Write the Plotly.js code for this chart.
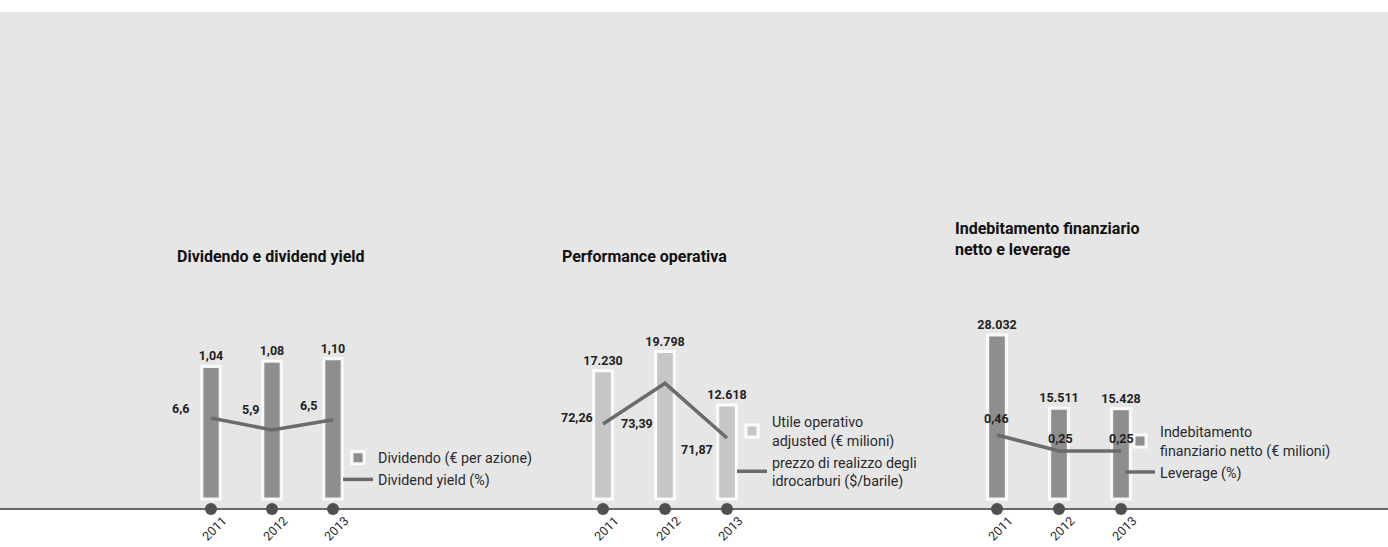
<!DOCTYPE html>
<html>
<head>
<meta charset="utf-8">
<script src="https://cdn.plot.ly/plotly-3.0.1.min.js"></script>
<style>html,body{margin:0;padding:0;background:#fff;}#chart{width:1388px;height:547px;}</style>
</head>
<body>
<div id="chart"></div>
<script>
// ---- data ----
const years = ['2011', '2012', '2013'];

const dividendo = [1.04, 1.08, 1.10];          // € per azione
const dividendYield = [6.6, 5.9, 6.5];         // %

const utileOperativo = [17230, 19798, 12618];  // € milioni
const prezzoIdrocarburi = [72.26, 73.39, 71.87]; // $/barile

const indebitamento = [28032, 15511, 15428];   // € milioni
const leverage = [0.46, 0.25, 0.25];           // %

const panelTitles = ['Dividendo e dividend yield', 'Performance operativa', 'Indebitamento finanziario<br>netto e leverage'];
const barNames = ['Dividendo (€ per azione)', 'Utile operativo<br>adjusted (€ milioni)', 'Indebitamento<br>finanziario netto (€ milioni)'];
const lineNames = ['Dividend yield (%)', 'prezzo di realizzo degli<br>idrocarburi ($/barile)', 'Leverage (%)'];

// ---- style / layout ----
const FONT = 'Roboto, "Open Sans", sans-serif';
const W = 1388, H = 547;
const yDom = [(H - 509) / H, (H - 300) / H];
const xDoms = [[180.5 / W, 363.5 / W], [572 / W, 758 / W], [966 / W, 1152 / W]];
const barRanges = [[-10 / 127.5, 199 / 127.5], [-10 / 0.00745, 199 / 0.00745], [-10 / 0.00585, 199 / 0.00585]];
const lineRanges = [[6.6 - 91 / 17, 6.6 + 118 / 17], [72.26 - 85 / 36, 72.26 + 124 / 36], [0.46 - 74 / 76.2, 0.46 + 135 / 76.2]];
const barColors = ['#8e8e8e', '#c6c6c6', '#8e8e8e'];
const lineColor = '#6b6b6b';
const dotColor = '#4f4f4f';
const barFmt = ['%{y:.2f}', '%{y:,.0f}', '%{y:,.0f}'];
const lineFmt = [v => v.toFixed(1).replace('.', ','), v => v.toFixed(2).replace('.', ','), v => v.toFixed(2).replace('.', ',')];
const labelShift = [
  [[-31, 10], [-22, 20], [-25, 14]],
  [[-26, 7], [-28, -40], [-30, -11]],
  [[-1, 17], [1, 13], [0, 13]]
];
const legendPos = [[338 / W, (H - 442) / H], [732 / W, (H - 406) / H], [1120 / W, (H - 416) / H]];

const barData = [dividendo, utileOperativo, indebitamento];
const lineData = [dividendYield, prezzoIdrocarburi, leverage];

const traces = [];
const annotations = [];
const layout = {
  width: W, height: H,
  margin: {l: 0, r: 0, t: 0, b: 0},
  paper_bgcolor: '#ffffff',
  plot_bgcolor: 'rgba(0,0,0,0)',
  separators: ',.',
  showlegend: true,
  font: {family: FONT, color: '#2a2a2a'},
  shapes: [
    {type: 'rect', xref: 'paper', yref: 'paper', x0: 0, x1: 1, y0: yDom[0], y1: (H - 12) / H,
     fillcolor: '#e6e6e6', line: {width: 0}, layer: 'below'},
    {type: 'line', xref: 'paper', yref: 'paper', x0: 0, x1: 1, y0: yDom[0], y1: yDom[0],
     line: {color: '#3a3a3a', width: 1.5}, layer: 'below'}
  ],
  annotations: annotations
};

for (let p = 0; p < 3; p++) {
  const xa = p === 0 ? 'x' : 'x' + (p + 1);
  const yb = p === 0 ? 'y' : 'y' + (2 * p + 1);
  const yl = 'y' + (2 * p + 2);
  const lg = p === 0 ? 'legend' : 'legend' + (p + 1);
  const xKey = p === 0 ? 'xaxis' : 'xaxis' + (p + 1);
  const ybKey = 'yaxis' + (p === 0 ? '' : (2 * p + 1));
  const ylKey = 'yaxis' + (2 * p + 2);

  layout[xKey] = {
    domain: xDoms[p], range: [-0.5, 2.5], type: 'category', anchor: yb,
    showgrid: false, zeroline: false, showline: false, ticks: '',
    tickangle: -45, ticklabelshift: 12, ticklabelstandoff: 1,
    tickfont: {family: FONT, size: 12.5, color: '#2a2a2a'}, fixedrange: true
  };
  layout[ybKey] = {domain: yDom, range: barRanges[p], visible: false, anchor: xa, fixedrange: true};
  layout[ylKey] = {domain: yDom, range: lineRanges[p], visible: false, overlaying: yb, anchor: xa, side: 'right', fixedrange: true};
  layout[lg] = {
    x: legendPos[p][0], y: legendPos[p][1], xanchor: 'left', yanchor: 'top',
    bgcolor: 'rgba(0,0,0,0)', font: {family: FONT, size: 14.3, color: '#2a2a2a'},
    traceorder: 'normal', itemclick: false, itemdoubleclick: false, tracegroupgap: 0
  };

  traces.push({
    type: 'bar', x: years, y: barData[p], xaxis: xa, yaxis: yb, name: barNames[p], legend: lg,
    width: 0.3,
    marker: {color: barColors[p], line: {color: 'rgba(255,255,255,0.9)', width: 3}},
    texttemplate: barFmt[p], textposition: 'outside', cliponaxis: false, constraintext: 'none',
    textfont: {family: FONT, size: 12.5, weight: 700, color: '#222'},
    hoverinfo: 'skip'
  });
  traces.push({
    type: 'scatter', mode: 'lines', x: years, y: lineData[p], xaxis: xa, yaxis: yl, name: lineNames[p], legend: lg,
    line: {color: lineColor, width: 3.5}, cliponaxis: false, hoverinfo: 'skip'
  });
  traces.push({
    type: 'scatter', mode: 'markers', x: years, y: years.map(() => barRanges[p][0]), xaxis: xa, yaxis: yb,
    showlegend: false, marker: {color: dotColor, size: 12}, cliponaxis: false, hoverinfo: 'skip'
  });

  lineData[p].forEach((v, i) => {
    annotations.push({
      x: i, y: v, xref: xa, yref: yl, text: lineFmt[p](v), showarrow: false,
      xshift: labelShift[p][i][0], yshift: labelShift[p][i][1],
      font: {family: FONT, size: 12.5, weight: 700, color: '#222'}
    });
  });

  annotations.push({
    xref: 'paper', yref: 'paper',
    x: [175 / W, 560 / W, 953 / W][p], y: [(H - 256) / H, (H - 256) / H, (H - 238.5) / H][p],
    xanchor: 'left', yanchor: 'middle', align: 'left', showarrow: false,
    text: panelTitles[p], font: {family: FONT, size: 16, weight: 700, color: '#111'}
  });
}

Plotly.newPlot('chart', traces, layout, {staticPlot: true, displayModeBar: false});
</script>
</body>
</html>
